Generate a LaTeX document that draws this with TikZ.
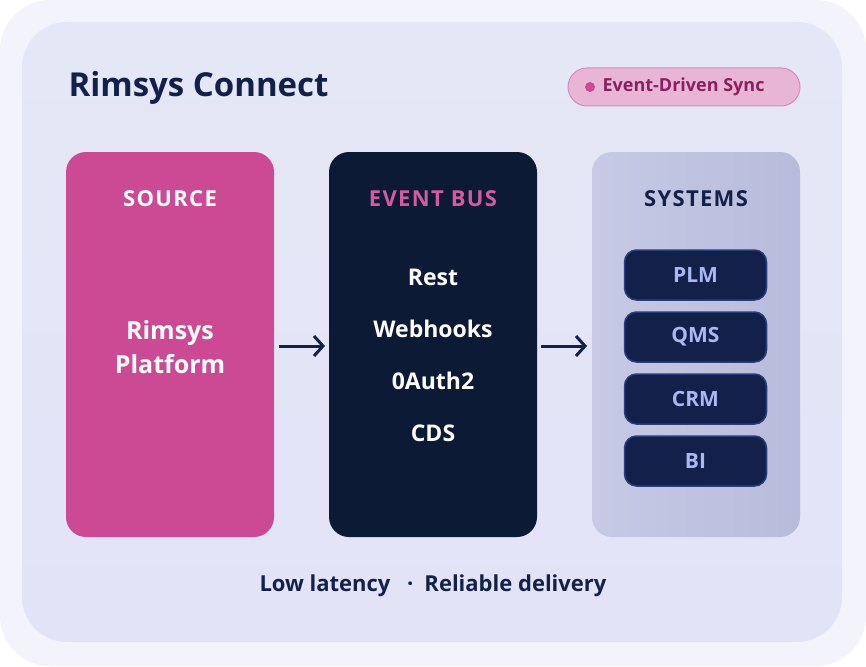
\documentclass[tikz,border=0pt]{standalone}
\usepackage{fontspec}
\setmainfont{Open Sans}
\usetikzlibrary{arrows.meta}
\definecolor{navy}{HTML}{13214A}
\definecolor{pinkbox}{HTML}{CC4A94}
\definecolor{busbg}{HTML}{0C1A36}
\definecolor{pill}{HTML}{13214A}
\definecolor{pillbd}{HTML}{2B3D7A}
\definecolor{pilltx}{HTML}{A9B8F2}
\definecolor{outerbg}{HTML}{F3F3FB}
\definecolor{cardtop}{HTML}{E4E7F6}
\definecolor{cardbot}{HTML}{E3E3F7}
\definecolor{sysl}{HTML}{C6CAE5}
\definecolor{sysr}{HTML}{B8BBDB}
\definecolor{badgef}{HTML}{E9B5D7}
\definecolor{badged}{HTML}{D98BC1}
\definecolor{badget}{HTML}{8A1F5E}
\begin{document}
\begin{tikzpicture}[x=1pt,y=-1pt,
  col/.style={rounded corners=20pt},
  head/.style={font=\fontsize{22}{24}\selectfont\bfseries\addfontfeatures{LetterSpace=6}},
  item/.style={font=\fontsize{23}{26}\selectfont\bfseries, text=white},
  pillst/.style={draw=pillbd, line width=1.5pt, fill=pill, rounded corners=12pt, minimum width=142pt, minimum height=50pt, text=pilltx, font=\fontsize{21}{24}\selectfont\bfseries},
  arr/.style={draw=navy, line width=3pt, -{Straight Barb[length=9pt,width=20pt]}}]
\useasboundingbox (0,0) rectangle (866,666);
\fill[outerbg, rounded corners=50pt] (0,0) rectangle (866,666);
\shade[top color=cardtop, bottom color=cardbot, rounded corners=45pt] (22,22) rectangle (842,642);
\node[anchor=west, text=navy, font=\fontsize{33}{36}\selectfont\bfseries] (title) at (65,88) {Rimsys Connect};
\node[draw=badged, line width=1pt, fill=badgef, rounded corners=19pt, minimum width=232pt, minimum height=38pt] (badge) at (684,87) {};
\fill[pinkbox] (590,87) circle (5pt);
\node[anchor=west, text=badget, font=\fontsize{18}{20}\selectfont\bfseries] (badgetxt) at (599,87) {Event-Driven Sync};
\fill[pinkbox, col] (66,152) rectangle (274,537);
\fill[busbg, col] (329,152) rectangle (537,537);
\shade[col, left color=sysl, right color=sysr] (592,152) rectangle (800,537);
\node[head, text=white] (src) at (170,199) {SOURCE};
\node[head, text=pinkbox!90!white] (bus) at (433,199) {EVENT BUS};
\node[head, text=navy] (sys) at (696,199) {SYSTEMS};
\node[item, align=center, font=\fontsize{25}{34}\selectfont\bfseries] (plat) at (170,347) {Rimsys\\Platform};
\node[item] (i1) at (433,277) {Rest};
\node[item] (i2) at (433,329) {Webhooks};
\node[item] (i3) at (433,381) {0Auth2};
\node[item] (i4) at (433,433) {CDS};
\node[pillst] (p1) at (695.5,275) {PLM};
\node[pillst] (p2) at (695.5,337) {QMS};
\node[pillst] (p3) at (695.5,399) {CRM};
\node[pillst] (p4) at (695.5,461) {BI};
\coordinate (a1s) at (279,346); \coordinate (a1e) at (325,346);
\coordinate (a2s) at (541,346); \coordinate (a2e) at (587,346);
\draw[arr] (a1s) -- (a1e);
\draw[arr] (a2s) -- (a2e);
\node[text=navy, font=\fontsize{22}{24}\selectfont\bfseries] (foot) at (433,586) {Low latency \enspace·\enspace Reliable delivery};
\end{tikzpicture}
\end{document}
